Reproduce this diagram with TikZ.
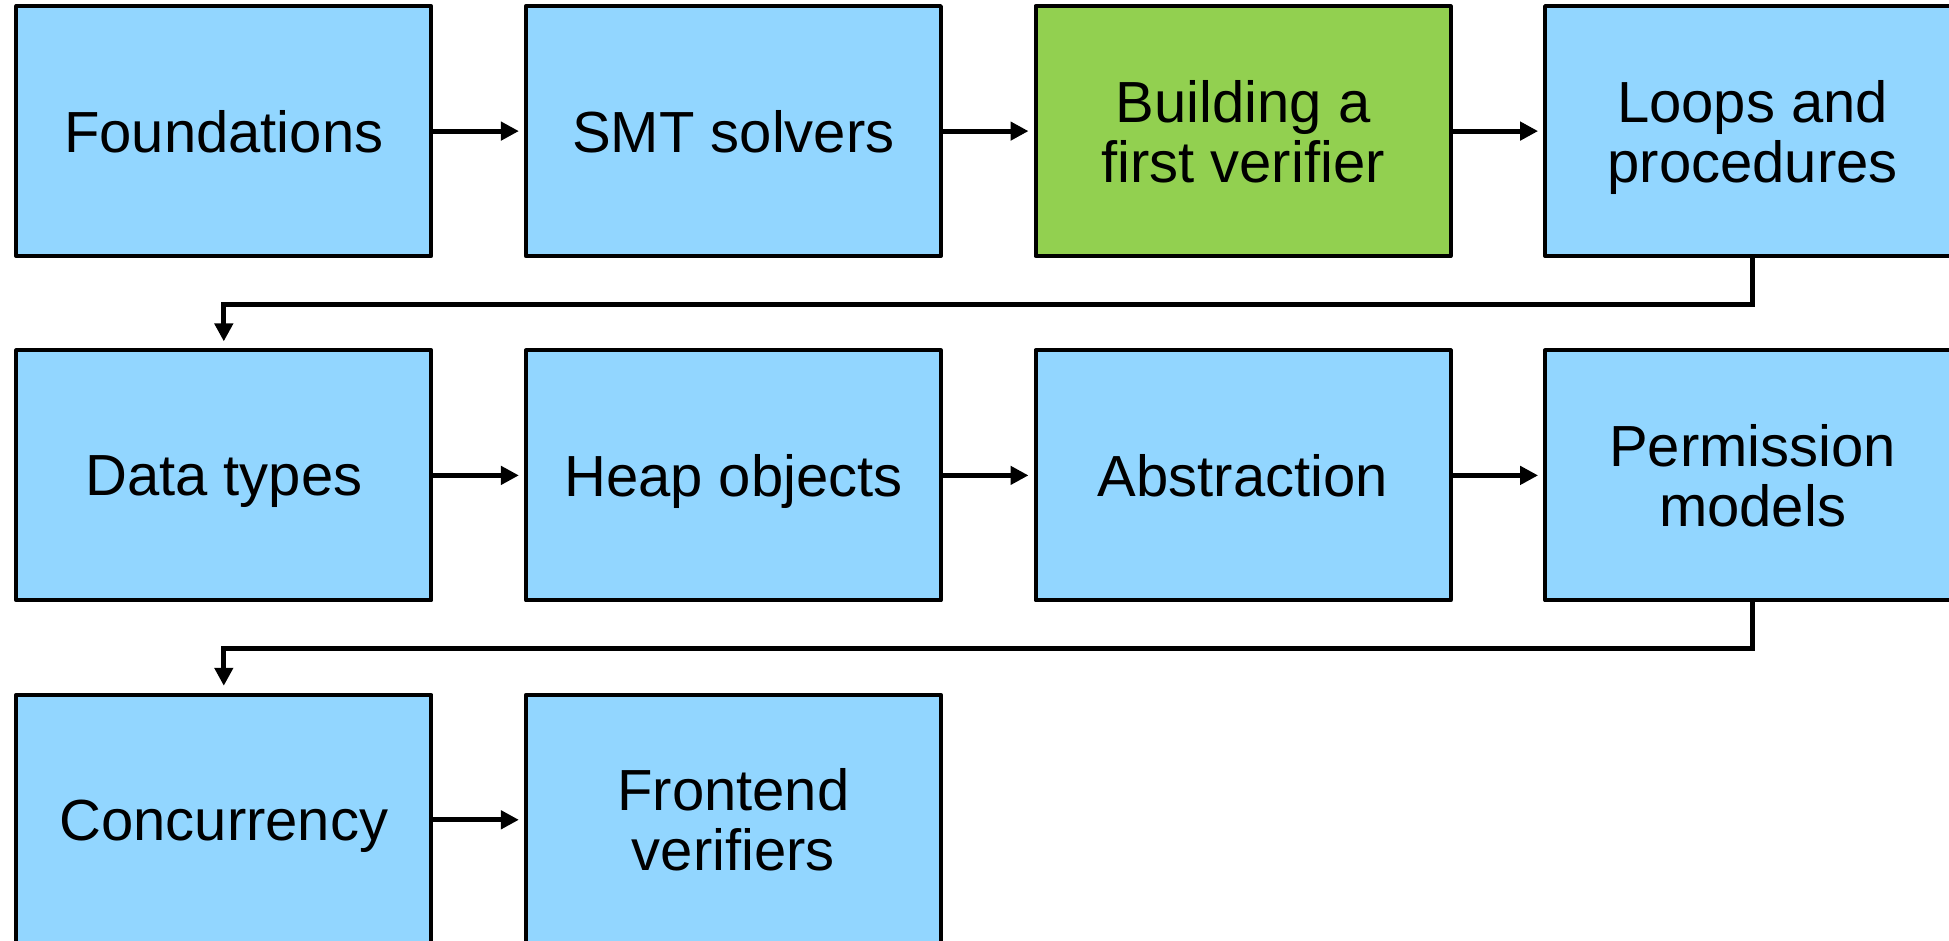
\documentclass[tikz,border=0pt]{standalone}
\usepackage{fontspec}
\setmainfont{Liberation Sans}
\usetikzlibrary{arrows.meta}
\definecolor{boxblue}{RGB}{146,214,255}
\definecolor{boxgreen}{RGB}{146,208,80}
\begin{document}
\begin{tikzpicture}[x=1pt,y=-1pt,
  stepbox/.style={draw=black, line width=4pt, fill=boxblue, minimum width=415pt, minimum height=250pt, inner sep=0pt, align=center, font=\fontsize{58}{60}\selectfont, text depth=0pt, line join=round},
  arr/.style={line width=5pt, -{Triangle[length=18pt,width=18pt]}},
  harr/.style={arr, shorten >=5pt},
  varr/.style={arr, shorten >=7pt}]
\useasboundingbox (0,0) rectangle (1949,941);
\clip (0,0) rectangle (1949,941);
\node[stepbox] (b1) at (223.8,131.1) {Foundations};
\node[stepbox] (b2) at (733.4,131.1) {SMT solvers};
\node[stepbox, fill=boxgreen] (b3) at (1243,131.1) {Building a\\first verifier};
\node[stepbox] (b4) at (1752.6,131.1) {Loops and\\procedures};
\node[stepbox] (b5) at (223.8,475.4) {Data types};
\node[stepbox] (b6) at (733.4,475.4) {Heap objects};
\node[stepbox] (b7) at (1243,475.4) {Abstraction};
\node[stepbox] (b8) at (1752.6,475.4) {Permission\\models};
\node[stepbox] (b9) at (223.8,819.8) {Concurrency};
\node[stepbox] (b10) at (733.4,819.8) {Frontend\\verifiers};
\draw[harr] (b1) -- (b2);
\draw[harr] (b2) -- (b3);
\draw[harr] (b3) -- (b4);
\draw[harr] (b5) -- (b6);
\draw[harr] (b6) -- (b7);
\draw[harr] (b7) -- (b8);
\draw[harr] (b9) -- (b10);
\draw[varr, line join=miter] (b4.south) -- ++(0,46) -| (b5.north);
\draw[varr, line join=miter] (b8.south) -- ++(0,46) -| (b9.north);
\end{tikzpicture}
\end{document}
